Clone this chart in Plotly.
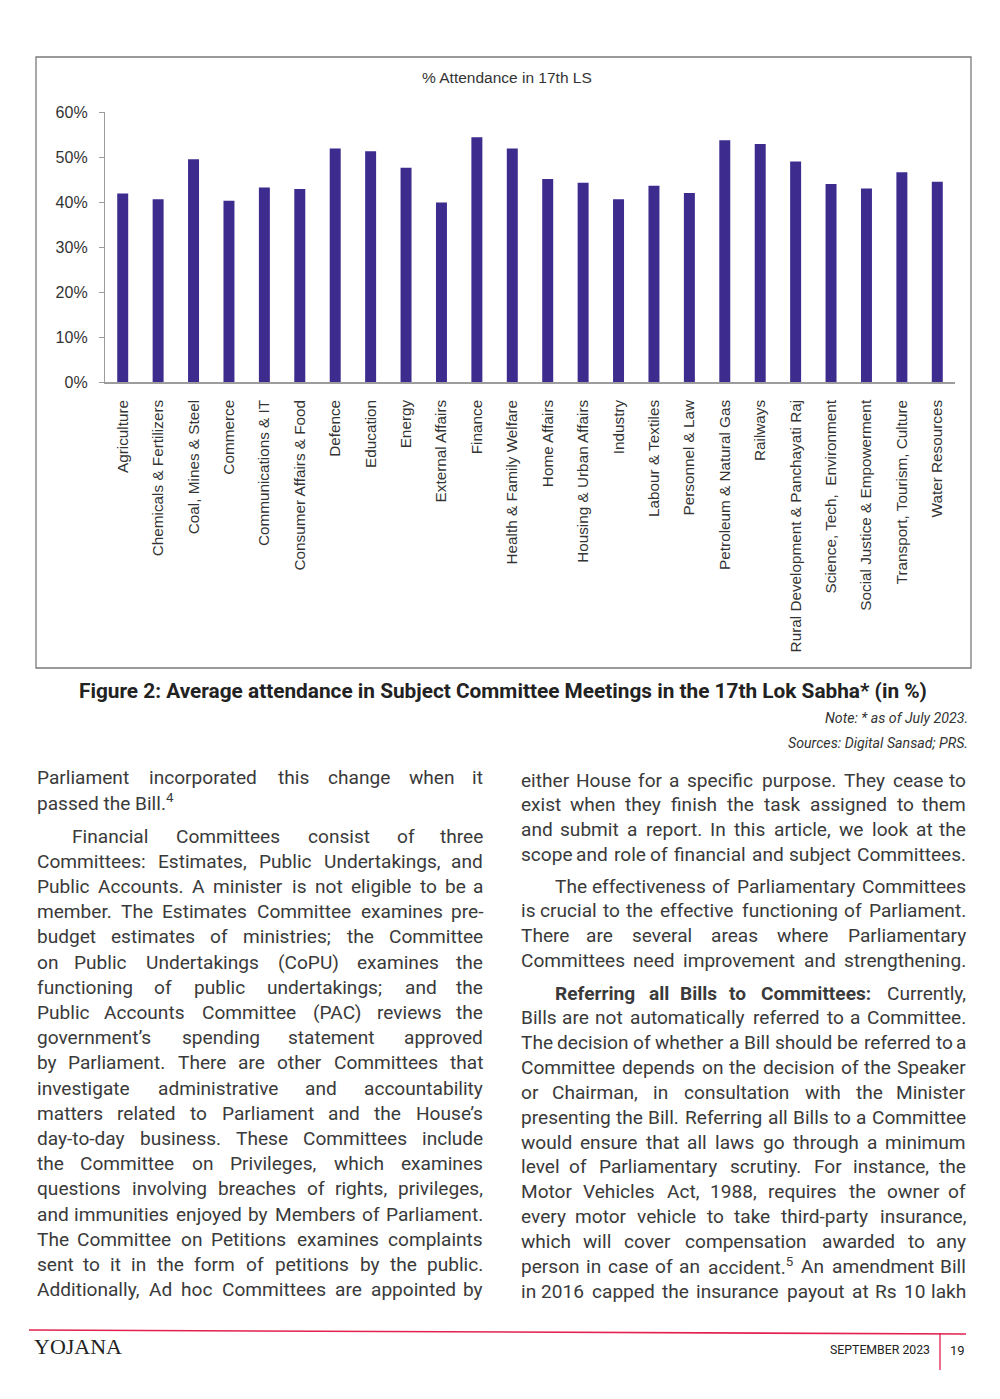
import re
import plotly.graph_objects as go

# ---------------- data ----------------
categories = [
    "Agriculture", "Chemicals & Fertilizers", "Coal, Mines & Steel", "Commerce",
    "Communications & IT", "Consumer Affairs & Food", "Defence", "Education",
    "Energy", "External Affairs", "Finance", "Health & Family Welfare",
    "Home Affairs", "Housing & Urban Affairs", "Industry", "Labour & Textiles",
    "Personnel & Law", "Petroleum & Natural Gas", "Railways",
    "Rural Development & Panchayati Raj", "Science, Tech,  Environment",
    "Social Justice & Empowerment", "Transport, Tourism, Culture", "Water Resources",
]
attendance = [
    41.9, 40.6, 49.5, 40.3, 43.2, 42.9, 51.9, 51.3, 47.6, 39.9, 54.4, 51.9,
    45.1, 44.3, 40.6, 43.6, 42.0, 53.7, 52.9, 49.0, 44.0, 43.0, 46.6, 44.5,
]
y_ticks = [0, 10, 20, 30, 40, 50, 60]
y_tick_labels = ["0%", "10%", "20%", "30%", "40%", "50%", "60%"]

chart_title = "% Attendance in 17th LS"
caption = "Figure 2: Average attendance in Subject Committee Meetings in the 17th Lok Sabha* (in %)"
note_lines = ["Note: * as of July 2023.", "Sources: Digital Sansad; PRS."]

left_paras = [
    ["Parliament incorporated this change when it",
     "passed the Bill.<sup>4</sup>"],
    ["Financial Committees consist of three",
     "Committees: Estimates, Public Undertakings, and",
     "Public Accounts. A minister is not eligible to be a",
     "member. The Estimates Committee examines pre-",
     "budget estimates of ministries; the Committee",
     "on Public Undertakings (CoPU) examines the",
     "functioning of public undertakings; and the",
     "Public Accounts Committee (PAC) reviews the",
     "government’s spending statement approved",
     "by Parliament. There are other Committees that",
     "investigate administrative and accountability",
     "matters related to Parliament and the House’s",
     "day-to-day business. These Committees include",
     "the Committee on Privileges, which examines",
     "questions involving breaches of rights, privileges,",
     "and immunities enjoyed by Members of Parliament.",
     "The Committee on Petitions examines complaints",
     "sent to it in the form of petitions by the public.",
     "Additionally, Ad hoc Committees are appointed by"],
]
right_paras = [
    ["either House for a specific purpose. They cease to",
     "exist when they finish the task assigned to them",
     "and submit a report. In this article, we look at the",
     "scope and role of financial and subject Committees."],
    ["The effectiveness of Parliamentary Committees",
     "is crucial to the effective functioning of Parliament.",
     "There are several areas where Parliamentary",
     "Committees need improvement and strengthening."],
    ["<b>Referring</b> <b>all</b> <b>Bills</b> <b>to</b> <b>Committees:</b> Currently,",
     "Bills are not automatically referred to a Committee.",
     "The decision of whether a Bill should be referred to a",
     "Committee depends on the decision of the Speaker",
     "or Chairman, in consultation with the Minister",
     "presenting the Bill. Referring all Bills to a Committee",
     "would ensure that all laws go through a minimum",
     "level of Parliamentary scrutiny. For instance, the",
     "Motor Vehicles Act, 1988, requires the owner of",
     "every motor vehicle to take third-party insurance,",
     "which will cover compensation awarded to any",
     "person in case of an accident.<sup>5</sup> An amendment Bill",
     "in 2016 capped the insurance payout at Rs 10 lakh"],
]
footer_left = "YOJANA"
footer_month = "SEPTEMBER 2023"
footer_page = "19"

# ---------------- layout helpers ----------------
OFF = 8                               # page body margin of the html page
W, H = 1000, 1399
PL, PR, PT, PB = 105, 955, 112, 382   # plot area in page pixels


def xp(px):
    return (px - PL) / (PR - PL)


def yp(py):
    return (PB - py) / (PB - PT)


CW = {
    ' ': .248, '.': .263, ',': .196, ';': .211, ':': .242, '’': .196, "'": .174,
    '(': .342, ')': .348, '-': .276, '*': .431, '%': .733, '&': .622,
    'A': .652, 'B': .622, 'C': .651, 'D': .656, 'E': .568, 'F': .553, 'G': .681,
    'H': .713, 'I': .272, 'J': .552, 'K': .627, 'L': .538, 'M': .873, 'N': .713,
    'O': .688, 'P': .631, 'Q': .688, 'R': .616, 'S': .593, 'T': .597, 'U': .648,
    'V': .636, 'W': .887, 'X': .627, 'Y': .601, 'Z': .599,
    'a': .544, 'b': .561, 'c': .523, 'd': .564, 'e': .530, 'f': .347, 'g': .561,
    'h': .551, 'i': .243, 'j': .239, 'k': .507, 'l': .243, 'm': .876, 'n': .552,
    'o': .570, 'p': .561, 'q': .568, 'r': .338, 's': .516, 't': .327, 'u': .551,
    'v': .484, 'w': .751, 'x': .496, 'y': .473, 'z': .496,
}


def word_width(word, size):
    bold = '<b>' in word
    sup = re.findall(r'<sup>(.*?)</sup>', word)
    plain = re.sub(r'<sup>.*?</sup>', '', word)
    plain = re.sub(r'<.*?>', '', plain)
    w = sum(CW.get(c, .561) for c in plain) * size
    w += sum(CW.get(c, .561) for s in sup for c in s) * size * 0.7
    return w * (1.08 if bold else 1.0) * 1.03


BODY_FONT = dict(family="Roboto", size=19.1, color="#3a3a3a")
MIN_GAP = 4.5
annotations = []


def add_line(text, x0, x1, y, justify=True):
    size = BODY_FONT["size"]
    words = text.split(' ')
    if not justify or len(words) == 1:
        annotations.append(dict(x=xp(x0), y=yp(y), xref='paper', yref='paper', text=text,
                                showarrow=False, xanchor='left', yanchor='middle', font=BODY_FONT))
        return
    ws = [word_width(w, size) for w in words]
    gap = (x1 - x0 - sum(ws)) / (len(words) - 1)
    scale = 1.0
    if gap < MIN_GAP:
        gap = MIN_GAP
        scale = (x1 - x0) / (sum(ws) + gap * (len(words) - 1))
    pos = 0.0
    for i, (w, wd) in enumerate(zip(words, ws)):
        if i == 0:
            x, anc = x0, 'left'
        elif i == len(words) - 1:
            x, anc = x1, 'right'
        else:
            x, anc = x0 + (pos + wd / 2) * scale, 'center'
        annotations.append(dict(x=xp(x), y=yp(y), xref='paper', yref='paper', text=w,
                                showarrow=False, xanchor=anc, yanchor='middle', font=BODY_FONT))
        pos += wd + gap


def add_column(paras, x0, x1, starts, spacing, indents, last_free):
    for p, lines in enumerate(paras):
        for i, line in enumerate(lines):
            xs = x0 + (indents[p] if i == 0 else 0)
            justify = not (last_free[p] and i == len(lines) - 1)
            add_line(line, xs, x1, starts[p] + i * spacing, justify)


add_column(left_paras, 35, 485, [777, 836], 25.2, [0, 35], [True, False])
add_column(right_paras, 519, 968, [780, 886, 993], 24.85, [0, 34, 34], [False, False, False])

# chart title, caption, notes
annotations.append(dict(x=xp(507), y=yp(77), xref='paper', yref='paper', text=chart_title,
                        showarrow=False, xanchor='center', yanchor='middle',
                        font=dict(family="Liberation Sans", size=15.5, color="#333333")))
annotations.append(dict(x=xp(503), y=yp(691), xref='paper', yref='paper', text="<b>" + caption + "</b>",
                        showarrow=False, xanchor='center', yanchor='middle',
                        font=dict(family="Roboto", size=20.8, color="#222222")))
for i, t in enumerate(note_lines):
    annotations.append(dict(x=xp(970), y=yp(718 + 25 * i), xref='paper', yref='paper',
                            text="<i>" + t + "</i>", showarrow=False, xanchor='right', yanchor='middle',
                            font=dict(family="Roboto", size=14.2, color="#333333")))
# footer
annotations.append(dict(x=xp(32), y=yp(1346), xref='paper', yref='paper', text=footer_left,
                        showarrow=False, xanchor='left', yanchor='middle',
                        font=dict(family="Liberation Serif", size=22, color="#222222")))
annotations.append(dict(x=xp(932), y=yp(1350), xref='paper', yref='paper', text=footer_month,
                        showarrow=False, xanchor='right', yanchor='middle',
                        font=dict(family="Roboto", size=12.3, color="#222222")))
annotations.append(dict(x=xp(957), y=yp(1350), xref='paper', yref='paper', text=footer_page,
                        showarrow=False, xanchor='center', yanchor='middle',
                        font=dict(family="Roboto", size=13, color="#222222")))

shapes = [
    dict(type='rect', xref='paper', yref='paper', x0=xp(36), x1=xp(971), y0=yp(668), y1=yp(57),
         line=dict(color="#7a7a7a", width=1.3), fillcolor='rgba(0,0,0,0)', layer='below'),
    dict(type='line', xref='paper', yref='paper', x0=xp(29), x1=xp(966), y0=yp(1330), y1=yp(1334),
         line=dict(color="#e3204f", width=1.6)),
    dict(type='line', xref='paper', yref='paper', x0=xp(940), x1=xp(940), y0=yp(1333), y1=yp(1370),
         line=dict(color="#e3204f", width=1.3)),
]

fig = go.Figure(go.Bar(x=categories, y=attendance, marker=dict(color="#3d2b8e", line=dict(width=0)),
                       width=0.31, hoverinfo='skip'))

fig.update_layout(
    width=W - OFF, height=H - OFF, autosize=False,
    margin=dict(l=PL - OFF, r=W - PR, t=PT - OFF, b=H - PB, pad=0),
    paper_bgcolor="white", plot_bgcolor="white",
    showlegend=False,
    annotations=annotations, shapes=shapes,
    xaxis=dict(range=[-0.5, len(categories) - 0.5], showgrid=False, zeroline=False,
               showline=True, linecolor="#9c9c9c", linewidth=1.5,
               tickangle=-90, ticks="", ticklabelstandoff=10,
               tickfont=dict(family="Liberation Sans", size=15.3, color="#333333")),
    yaxis=dict(range=[0, 60], tickvals=y_ticks, ticktext=y_tick_labels, showgrid=False,
               zeroline=False, showline=True, linecolor="#9c9c9c", linewidth=1.3,
               ticks="outside", ticklen=5, tickcolor="#9c9c9c", ticklabelstandoff=8,
               tickfont=dict(family="Liberation Sans", size=16, color="#333333")),
)

fig.write_html("out.html")
